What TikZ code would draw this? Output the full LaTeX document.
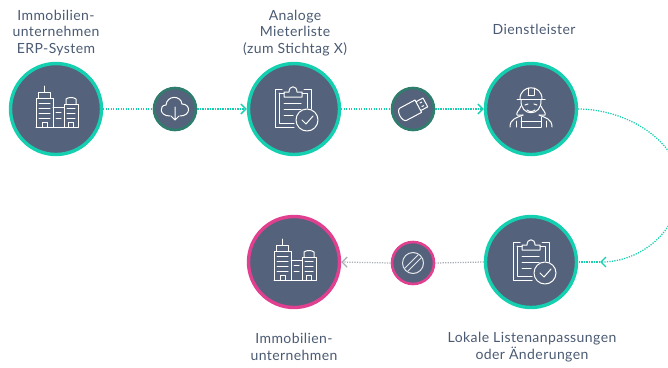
\documentclass[tikz,border=0pt]{standalone}
\usepackage{fontspec}
\setmainfont{Lato}[LetterSpace=3]
\usetikzlibrary{arrows.meta}
\definecolor{fillc}{HTML}{54637B}
\definecolor{teal1}{HTML}{14CFB0}
\definecolor{teal2}{HTML}{2F7D6C}
\definecolor{pink1}{HTML}{E0408F}
\definecolor{txt}{HTML}{4A5A72}
\definecolor{greyl}{HTML}{A9AEB5}
\tikzset{
  x=1pt,y=-1pt,
  big/.style={circle,draw=teal1,fill=fillc,line width=3.4pt,minimum size=91pt,inner sep=0pt},
  bigp/.style={big,draw=pink1},
  small/.style={circle,draw=teal2,fill=fillc,line width=2.6pt,minimum size=42pt,inner sep=0pt},
  smallp/.style={small,draw=pink1},
  lab/.style={font=\fontsize{14pt}{16.4pt}\selectfont,text=txt,align=center,inner sep=0pt},
  con/.style={draw=teal1,line width=1.25pt,dash pattern=on 1.25pt off 1.25pt},
  cong/.style={con,draw=greyl},
  tip/.style={-{Straight Barb[length=5pt,width=10pt,line width=1.3pt]}},
  ico/.style={draw=white,line width=1pt,line cap=round,line join=round},
}
\newcommand{\bldg}[2]{\begin{scope}[shift={(#1,#2)},ico]
 \draw (-20,18) -- (-20,-11) -- (-3,-11) -- (-3,18);
 \draw (-18,-11) -- (-18,-17) -- (-6,-17) -- (-6,-11);
 \draw (-12,-17) -- (-12,-23);
 \draw (-3,-2) -- (8,-2);
 \draw (8,18) -- (8,-5) -- (22,-5) -- (22,18) -- (-20,18);
 \draw (10,-5) -- (10,-10) .. controls (12,-12) and (18,-12) .. (20,-10) -- (20,-5);
 \foreach \y in {-6,-1,4,9}{\draw (-17,\y) -- (-6,\y);}
 \foreach \y in {3,9}{\draw (0,\y) -- (5,\y);}
 \foreach \y in {-1,4,9}{\draw (11,\y) -- (19,\y);}
 \draw (-14,18) -- (-14,13) -- (-9,13) -- (-9,18);
 \draw (12,18) -- (12,13) -- (17,13) -- (17,18);
\end{scope}}
\newcommand{\clipbd}[2]{\begin{scope}[shift={(#1,#2)},ico]
 \draw (-11,-20) -- (-18,-20) -- (-18,18) -- (1,18);
 \draw (-14,-16) -- (-14,14) -- (1,14);
 \draw (-14,-16) -- (-9,-16);
 \draw (9,-16) -- (14,-16) -- (14,-1);
 \draw (11,-20) -- (18,-20) -- (18,0);
 \draw (-9,-12) -- (-9,-17) -- (-4,-17) .. controls (-4,-24) and (4,-24) .. (4,-17) -- (9,-17) -- (9,-12) -- cycle;
 \draw (-9,-6) -- (8,-6);
 \draw (-9,0) -- (8,0);
 \draw (-9,6) -- (0,6);
 \draw (14,11) circle (11);
 \draw (9,11) -- (13,15) -- (20,7);
\end{scope}}
\newcommand{\worker}[2]{\begin{scope}[shift={(#1,#2)},ico]
 \draw (-14,-10) -- (14,-10);
 \draw (-11,-10) .. controls (-11,-25) and (11,-25) .. (11,-10);
 \draw (-3,-14) -- (-3,-21) (3,-14) -- (3,-21) (-3,-14) -- (3,-14);
 \draw (-10,-9) .. controls (-11,8) and (11,8) .. (10,-9);
 \draw (-10,-3) .. controls (-12,2) and (-15,3) .. (-14,6) -- (-8,6);
 \draw (10,-3) .. controls (12,2) and (15,3) .. (14,6) -- (8,6);
 \draw (-6,-4) -- (-3,-5) (3,-5) -- (6,-4);
 \draw (-4,1) .. controls (-2,3) and (2,3) .. (4,1);
 \draw (-21,18) .. controls (-21,10) and (-15,9) .. (-8,6);
 \draw (21,18) .. controls (21,10) and (15,9) .. (8,6);
 \draw (-10,18) -- (-10,8) (10,18) -- (10,8);
 \draw (-10,12) -- (10,12) (-10,18) -- (10,18);
 \draw (-15,18) -- (-15,12) (15,18) -- (15,12);
\end{scope}}
\begin{document}
\begin{tikzpicture}
\useasboundingbox (0,0) rectangle (668,367);
\clip (0,0) rectangle (668,367);
% nodes
\node[big] (a) at (56,109) {};
\node[small] (s1) at (175,109) {};
\node[big] (b) at (294,109) {};
\node[small] (s2) at (413,109) {};
\node[big] (c) at (531,109) {};
\node[big] (d) at (531,262) {};
\node[smallp] (s3) at (413,263) {};
\node[bigp] (e) at (294,262) {};
\coordinate (tipd) at (600,262);
% connectors
\draw[con] (a.east) -- (s1.west);
\draw[con,tip] (s1.east) -- (b.west);
\draw[con] (b.east) -- (s2.west);
\draw[con,tip] (s2.east) -- (c.west);
\draw[con,tip] (c.east) .. controls (625,109) and (680,140) .. (680,186) .. controls (680,232) and (640,262) .. (tipd);
\draw[con] (tipd) -- (d.east);
\draw[cong] (d.west) -- (s3.east);
\draw[cong,tip] (s3.west) -- (e.east);
% icons
\bldg{56}{109}
\clipbd{293}{109}
\worker{531}{109}
\clipbd{531}{262}
\bldg{294}{262}
% small icons
\begin{scope}[shift={(175,109)},ico]
 \draw (-5,7) .. controls (-16,7) and (-16,-4) .. (-9,-4) .. controls (-8,-14) and (6,-14) .. (7,-5) .. controls (16,-5) and (16,7) .. (5,7);
 \draw (0,-2) -- (0,11) (-4,7) -- (0,11) -- (4,7);
\end{scope}
\begin{scope}[shift={(413,109)},rotate=28,ico]
 \draw (6,-7) -- (-11,-7) .. controls (-16,-7) and (-16,7) .. (-11,7) -- (6,7) -- cycle;
 \draw (6,-5) -- (14,-5) -- (14,5) -- (6,5);
 \draw (9,-2) -- (11,-2) (9,2) -- (11,2);
\end{scope}
\begin{scope}[shift={(413,263)}]
 \draw[ico,draw=white!85!fillc] (0,0) circle (10.5);
 \draw[ico,draw=white!85!fillc] (-8,5) -- (5,-8) (-5,8) -- (8,-5);
\end{scope}
% labels
\node[lab] (la) at (56,33) {Immobilien-\\unternehmen\\ERP-System};
\node[lab] (lb) at (295,33) {Analoge\\Mieterliste\\(zum Stichtag X)};
\node[lab] (lc) at (534,29) {Dienstleister};
\node[lab] (le) at (294,347) {Immobilien-\\unternehmen};
\node[lab] (ld) at (532,347) {Lokale Listenanpassungen\\oder Änderungen};
\end{tikzpicture}
\end{document}
